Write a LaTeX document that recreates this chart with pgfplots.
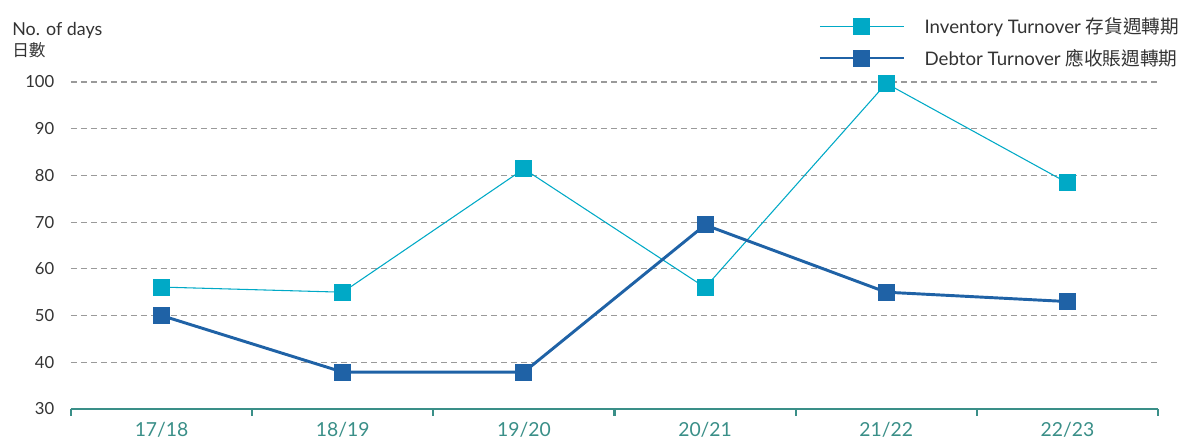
\documentclass[border=0pt]{standalone}
\usepackage{pgfplots}
\pgfplotsset{compat=1.18}
\usepackage{fontspec}
\setmainfont{Lato}
\newfontfamily\cjk{Noto Sans CJK TC}
\definecolor{inv}{HTML}{00A9C6}
\definecolor{debt}{HTML}{1F62A6}
\definecolor{axteal}{HTML}{3A8F88}
\definecolor{txt}{HTML}{333333}
\definecolor{gridc}{HTML}{9A9A9A}
\begin{document}
\begin{tikzpicture}
\begin{axis}[
  width=815.25pt, height=245.25pt, scale only axis,
  xmin=-0.5, xmax=5.5, ymin=30, ymax=100,
  clip=false,
  axis lines*=left,
  y axis line style={draw=none},
  x axis line style={draw=axteal, line width=1.6pt},
  xtick={0,...,5},
  xticklabels={17/18,18/19,19/20,20/21,21/22,22/23},
  minor xtick={-0.5,0.5,...,5.5},
  major tick length=0pt,
  minor tick length=5pt,
  tick align=outside,
  minor tick style={draw=axteal, line width=1.6pt},
  ytick={30,40,...,100},
  ymajorgrids,
  major grid style={draw=gridc, line width=0.8pt, dash pattern=on 4.5pt off 3pt},
  /pgf/number format/assume math mode=true,
  yticklabel style={font=\fontsize{12.5}{14}\selectfont, text=txt, xshift=-9pt},
  xticklabel style={font=\fontsize{14.5}{16}\selectfont, text=axteal, yshift=-6.5pt},
  legend image code/.code={\draw[mark repeat=2,mark phase=2,#1] plot coordinates {(0pt,0pt)(31.5pt,0pt)(63pt,0pt)};},
  legend style={draw=none, fill=none, at={(rel axis cs:0.6878,1.207)}, anchor=north west,
    font=\fontsize{14}{15}\selectfont, text=txt, row sep=6.5pt,
    column sep=0pt, /tikz/every odd column/.append style={column sep=13pt},
    legend cell align=left, inner sep=0pt},
]
\addplot[color=inv, line width=0.8pt, mark=square*, mark size=6pt, mark options={solid, draw=inv, fill=inv, line width=0pt}]
  coordinates {(0,56.1) (1,55.0) (2,81.4) (3,56.0) (4,99.7) (5,78.4)};
\addlegendentry{Inventory Turnover {\cjk 存貨週轉期}}
\addplot[color=debt, line width=2.2pt, mark=square*, mark size=6pt, mark options={solid, draw=debt, fill=debt, line width=0pt},
  legend image post style={line width=1.3pt}]
  coordinates {(0,50.0) (1,37.9) (2,37.9) (3,69.4) (4,55.0) (5,53.0)};
\addlegendentry{Debtor Turnover {\cjk 應收賬週轉期}}
\end{axis}
\node[anchor=base west, inner sep=0pt, text=txt, font=\fontsize{13.4}{15}\selectfont] at (-44.25pt,279.75pt) {No. of days};
\node[anchor=base west, inner sep=0pt, text=txt, font=\fontsize{12.5}{14}\selectfont\cjk] at (-44.25pt,264pt) {日數};
\pgfresetboundingbox
\path[use as bounding box] (-53.25pt,-24pt) rectangle (830.25pt,306.75pt);
\end{tikzpicture}
\end{document}
